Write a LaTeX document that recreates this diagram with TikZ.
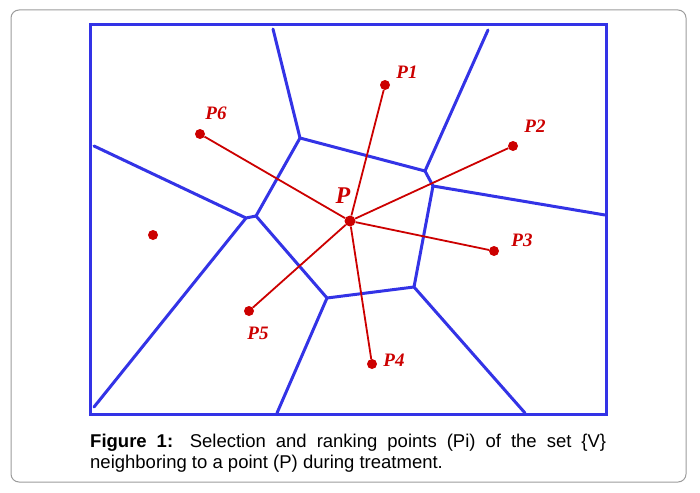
\documentclass[tikz,border=0pt]{standalone}
\usepackage{fontspec}
\setmainfont{Liberation Serif}
\newfontfamily\capfont{Liberation Sans}
\definecolor{vblue}{RGB}{51,51,230}
\definecolor{vred}{RGB}{204,0,0}
\definecolor{framegray}{RGB}{155,155,155}
\begin{document}
\begin{tikzpicture}[x=1pt,y=-1pt,
  edge/.style={vblue,line width=3pt,line join=round,line cap=round},
  link/.style={vred,line width=1.8pt},
  dot/.style={circle,fill=vred,inner sep=0pt,minimum size=10pt},
  lab/.style={vred,inner sep=0pt,font=\fontsize{19}{19}\selectfont\bfseries\itshape}]
\useasboundingbox (0,0) rectangle (700,492);
\draw[framegray,line width=1pt,rounded corners=8pt] (11,10) rectangle (686,482);
\draw[vblue,line width=3pt] (90,25) rectangle (606,414);
% Voronoi vertices
\coordinate (tA) at (273,29);
\coordinate (A) at (300,138);
\coordinate (B) at (425,171);
\coordinate (tB) at (488,30);
\coordinate (C) at (433,186);
\coordinate (rC) at (605,215);
\coordinate (D) at (414,287);
\coordinate (bD) at (525,413);
\coordinate (E) at (327,298);
\coordinate (bE) at (277,413);
\coordinate (F) at (256,216);
\coordinate (G) at (246,218);
\coordinate (lG) at (94,146);
\coordinate (blG) at (94,407);
\draw[edge] (tA) -- (A) -- (B) -- (tB);
\draw[edge] (B) -- (C) -- (rC);
\draw[edge] (C) -- (D) -- (bD);
\draw[edge] (D) -- (E) -- (bE);
\draw[edge] (E) -- (F) -- (A);
\draw[edge] (lG) -- (G) -- (F);
\draw[edge] (G) -- (blG);
% points
\node[dot,minimum size=11pt] (P) at (350,221) {};
\node[dot] (P1) at (385,85) {};
\node[dot] (P2) at (513,146) {};
\node[dot] (P3) at (494,251) {};
\node[dot] (P4) at (372,364) {};
\node[dot] (P5) at (249,311) {};
\node[dot] (P6) at (200,134) {};
\node[dot] (Q) at (153,235) {};
\foreach \i in {1,...,6} \draw[link] (P) -- (P\i);
% labels
\node[lab,font=\fontsize{24}{24}\selectfont\bfseries\itshape] (lP) at (343,196) {P};
\node[lab] (l1) at (407,72) {P1};
\node[lab] (l2) at (535,126) {P2};
\node[lab] (l3) at (522,240) {P3};
\node[lab] (l4) at (394,360) {P4};
\node[lab] (l5) at (258,333) {P5};
\node[lab] (l6) at (216,113) {P6};
% caption
\node[anchor=base west,inner sep=0pt,text width=516pt,align=justify,
  font=\capfont\fontsize{18.5}{21}\selectfont] (cap) at (90,447)
  {\textbf{Figure 1:} Selection and ranking points (Pi) of the set \{V\}\linebreak neighboring to a point (P) during treatment.};
\end{tikzpicture}
\end{document}
